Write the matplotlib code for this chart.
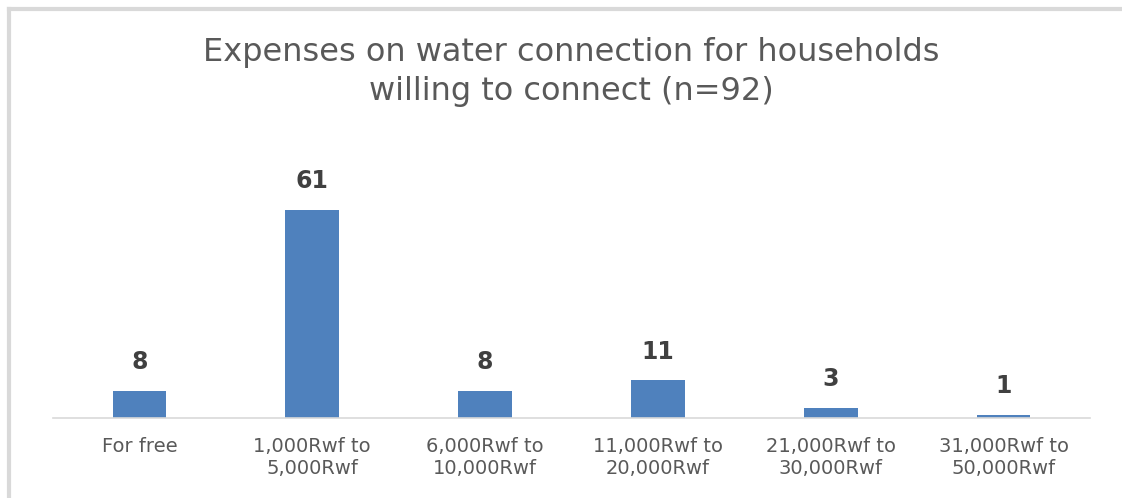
import matplotlib.pyplot as plt
from matplotlib.lines import Line2D

categories = ['For free', '1,000Rwf to\n5,000Rwf', '6,000Rwf to\n10,000Rwf',
              '11,000Rwf to\n20,000Rwf', '21,000Rwf to\n30,000Rwf', '31,000Rwf to\n50,000Rwf']
counts = [8, 61, 8, 11, 3, 1]
title = 'Expenses on water connection for households\nwilling to connect (n=92)'

W, H = 1122, 498
fig = plt.figure(figsize=(W / 100, H / 100), dpi=100)
fig.patch.set_facecolor('white')

# plot area in pixel terms: baseline at y=418, x from 53 to 1090
left, right, bottom, top = 53, 1090, 418, 179
ax = fig.add_axes([left / W, 1 - bottom / H, (right - left) / W, (bottom - top) / H])
x = range(len(categories))
ax.bar(x, counts, width=0.31, color='#4F81BD')
ax.set_xlim(-0.5, len(categories) - 0.5)
ax.set_ylim(0, 70)
for s in ['top', 'right', 'left']:
    ax.spines[s].set_visible(False)
ax.spines['bottom'].set_color('#D9D9D9')
ax.spines['bottom'].set_linewidth(1.2)
ax.set_yticks([])
ax.set_xticks(list(x))
ax.set_xticklabels(categories, fontsize=14, color='#595959', family='DejaVu Sans',
                   linespacing=1.15)
ax.tick_params(axis='x', length=0, pad=14)

for i, v in enumerate(counts):
    ax.annotate(str(v), (i, v), xytext=(0, 12), textcoords='offset points',
                ha='center', va='bottom', fontsize=17, fontweight='bold',
                color='#404040', family='DejaVu Sans')

fig.text(0.509, 1 - 72 / H, title, ha='center', va='center', fontsize=23,
         color='#595959', family='DejaVu Sans', linespacing=1.3)

# outer chart frame (left and top edges visible)
fig.add_artist(Line2D([9 / W, 9 / W], [0, 1 - 9 / H], transform=fig.transFigure,
                      color='#D9D9D9', lw=3))
fig.add_artist(Line2D([9 / W, 1], [1 - 9 / H, 1 - 9 / H], transform=fig.transFigure,
                      color='#D9D9D9', lw=3))

fig.savefig('out.png', dpi=100)
